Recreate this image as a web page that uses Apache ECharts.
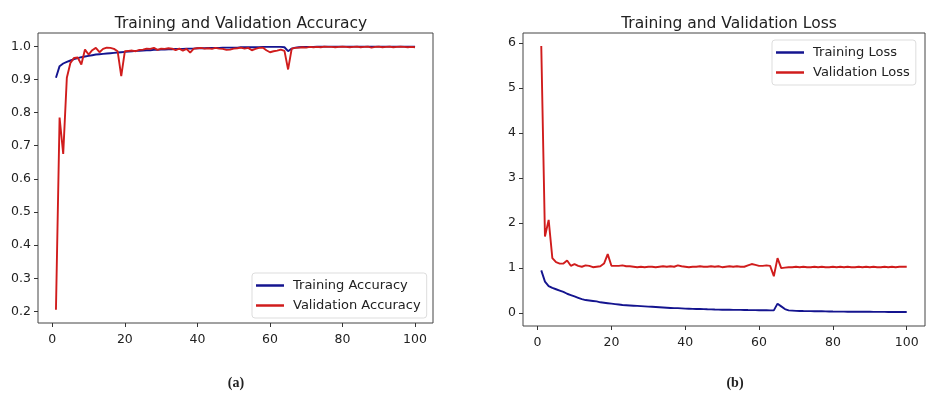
<!DOCTYPE html>
<html><head><meta charset="utf-8">
<script src="https://cdn.jsdelivr.net/npm/echarts@6/dist/echarts.min.js"></script>
<style>html,body{margin:0;padding:0;background:#fff}#c{width:935px;height:396px}</style>
</head><body><div id="c"></div>
<script>
const epochs = Array.from({length:100}, (_, i) => i + 1);
const xTicks = [0, 20, 40, 60, 80, 100];
const accTicks = [0.2, 0.3, 0.4, 0.5, 0.6, 0.7, 0.8, 0.9, 1.0];
const lossTicks = [0, 1, 2, 3, 4, 5, 6];

const trainAcc = [
0.905,0.940,0.948,0.953,0.957,0.961,0.964,0.967,0.969,0.971,
0.973,0.975,0.976,0.977,0.978,0.979,0.980,0.981,0.982,0.983,
0.984,0.985,0.986,0.986,0.987,0.988,0.988,0.989,0.989,0.990,
0.990,0.991,0.991,0.992,0.992,0.992,0.993,0.993,0.993,0.994,
0.994,0.994,0.995,0.995,0.995,0.995,0.996,0.996,0.996,0.996,
0.996,0.997,0.997,0.997,0.997,0.997,0.997,0.998,0.998,0.998,
0.998,0.998,0.998,0.997,0.985,0.993,0.996,0.997,0.998,0.998,
0.998,0.998,0.999,0.999,0.999,0.999,0.999,0.999,0.999,0.999,
0.999,0.999,0.999,0.999,0.999,0.999,0.999,0.999,0.999,0.999,
0.999,0.999,0.999,0.999,0.999,0.999,0.999,0.999,0.999,0.999];

const valAcc = [
0.205,0.785,0.675,0.905,0.950,0.965,0.966,0.945,0.990,0.975,
0.988,0.995,0.982,0.992,0.996,0.995,0.992,0.985,0.910,0.985,
0.986,0.987,0.985,0.989,0.990,0.993,0.992,0.995,0.989,0.993,
0.992,0.994,0.993,0.988,0.993,0.987,0.992,0.981,0.993,0.994,
0.995,0.993,0.994,0.992,0.995,0.993,0.992,0.989,0.990,0.993,
0.994,0.996,0.993,0.995,0.988,0.992,0.995,0.996,0.988,0.982,
0.985,0.987,0.990,0.986,0.930,0.993,0.995,0.996,0.997,0.996,
0.998,0.997,0.998,0.997,0.999,0.998,0.998,0.997,0.998,0.999,
0.998,0.997,0.998,0.999,0.997,0.998,0.999,0.996,0.998,0.999,
0.997,0.998,0.999,0.997,0.998,0.999,0.998,0.997,0.998,0.997];

const trainLoss = [
0.95,0.70,0.60,0.56,0.53,0.50,0.47,0.43,0.40,0.37,
0.34,0.31,0.29,0.28,0.27,0.26,0.24,0.23,0.22,0.21,
0.20,0.19,0.18,0.175,0.17,0.165,0.16,0.155,0.15,0.145,
0.14,0.135,0.13,0.125,0.12,0.115,0.11,0.11,0.105,0.10,
0.098,0.095,0.092,0.09,0.088,0.085,0.083,0.08,0.078,0.076,
0.075,0.074,0.073,0.072,0.071,0.07,0.068,0.067,0.066,0.065,
0.064,0.063,0.062,0.06,0.21,0.15,0.09,0.06,0.055,0.05,
0.048,0.046,0.045,0.044,0.042,0.041,0.04,0.038,0.037,0.035,
0.034,0.034,0.033,0.032,0.032,0.031,0.030,0.030,0.029,0.029,
0.028,0.028,0.027,0.027,0.026,0.026,0.026,0.025,0.025,0.025];

const valLoss = [
5.93,1.70,2.07,1.22,1.13,1.10,1.10,1.17,1.05,1.09,
1.05,1.03,1.06,1.05,1.02,1.03,1.04,1.10,1.31,1.05,
1.05,1.05,1.06,1.04,1.04,1.03,1.02,1.03,1.02,1.03,
1.03,1.02,1.03,1.04,1.03,1.04,1.03,1.06,1.04,1.03,
1.02,1.03,1.03,1.04,1.03,1.03,1.04,1.03,1.04,1.02,
1.03,1.04,1.03,1.04,1.03,1.03,1.06,1.09,1.07,1.05,
1.05,1.06,1.05,0.82,1.22,1.00,1.01,1.02,1.02,1.03,
1.02,1.03,1.02,1.02,1.03,1.02,1.03,1.02,1.02,1.03,
1.02,1.03,1.02,1.03,1.02,1.02,1.03,1.02,1.03,1.02,
1.03,1.02,1.02,1.03,1.02,1.03,1.02,1.03,1.03,1.03];

const FONT = 'DejaVu Sans';
const BLUE = '#14148f';
const RED = '#d01c1c';
const zip = (a) => epochs.map((e, i) => [e, a[i]]);

function xAxis(gi) {
  return {
    type: 'value', gridIndex: gi, min: -3.95, max: 104.95,
    axisLine: {show: false, onZero: false},
    splitLine: {show: false},
    axisTick: {show: true, inside: false, length: 4, customValues: xTicks, lineStyle: {color: '#333'}},
    axisLabel: {customValues: xTicks, fontFamily: FONT, fontSize: 12.5, color: '#222', margin: 10},
  };
}
function yAxis(gi, min, max, ticks, fmt) {
  return {
    type: 'value', gridIndex: gi, min: min, max: max,
    axisLine: {show: false, onZero: false},
    splitLine: {show: false},
    axisTick: {show: true, inside: false, length: 4, customValues: ticks, lineStyle: {color: '#333'}},
    axisLabel: {customValues: ticks, fontFamily: FONT, fontSize: 12.5, color: '#222', margin: 7, formatter: fmt},
  };
}
function line(name, data, color, xi) {
  return {
    name: name, type: 'line', xAxisIndex: xi, yAxisIndex: xi, data: data,
    showSymbol: false, symbol: 'none', lineStyle: {color: color, width: 1.9}, itemStyle: {color: color},
    animation: false,
  };
}
function legend(names, left, top) {
  return {
    data: names, left: left, top: top, orient: 'vertical',
    backgroundColor: '#fff', borderColor: '#ddd', borderWidth: 1, borderRadius: 3,
    padding: [5, 6, 5, 4], itemGap: 5, itemWidth: 28, itemHeight: 2.5, icon: 'rect',
    textStyle: {fontFamily: FONT, fontSize: 13, color: '#222', padding: [0, 0, 0, 4], lineHeight: 15},
    selectedMode: false,
  };
}

const chart = echarts.init(document.getElementById('c'), null, {renderer: 'canvas'});
chart.setOption({
  backgroundColor: '#fff',
  animation: false,
  title: [
    {text: 'Training and Validation Accuracy', left: 236, top: 11, textAlign: 'center',
     textStyle: {fontFamily: FONT, fontSize: 15.5, fontWeight: 'normal', color: '#222'}},
    {text: 'Training and Validation Loss', left: 724, top: 11, textAlign: 'center',
     textStyle: {fontFamily: FONT, fontSize: 15.5, fontWeight: 'normal', color: '#222'}},
    {text: '(a)', left: 231, top: 371, textAlign: 'center',
     textStyle: {fontFamily: 'Liberation Serif', fontSize: 14, fontWeight: 'bold', color: '#222'}},
    {text: '(b)', left: 730, top: 371, textAlign: 'center',
     textStyle: {fontFamily: 'Liberation Serif', fontSize: 14, fontWeight: 'bold', color: '#222'}},
  ],
  grid: [
    {left: 38, top: 33, width: 395, height: 290, show: true, borderColor: '#444', borderWidth: 1, backgroundColor: 'transparent'},
    {left: 523, top: 33, width: 402, height: 293, show: true, borderColor: '#444', borderWidth: 1, backgroundColor: 'transparent'},
  ],
  xAxis: [xAxis(0), xAxis(1)],
  yAxis: [
    yAxis(0, 0.165, 1.04, accTicks, v => v.toFixed(1)),
    yAxis(1, -0.286, 6.22, lossTicks, v => String(Math.round(v))),
  ],
  legend: [
    legend(['Training Accuracy', 'Validation Accuracy'], 252, 273),
    legend(['Training Loss', 'Validation Loss'], 772, 40),
  ],
  series: [
    line('Training Accuracy', zip(trainAcc), BLUE, 0),
    line('Validation Accuracy', zip(valAcc), RED, 0),
    line('Training Loss', zip(trainLoss), BLUE, 1),
    line('Validation Loss', zip(valLoss), RED, 1),
  ],
});
</script></body></html>
